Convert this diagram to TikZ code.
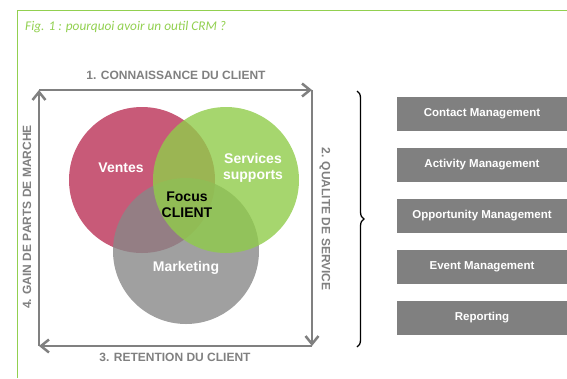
\documentclass[tikz,border=0pt]{standalone}
\usepackage{fontspec}
\setmainfont{Liberation Sans}[BoldFont={Liberation Sans Bold}]
\newfontfamily\capfont{Carlito}
\newfontfamily\grasfont{Liberation Sans Bold}
\usetikzlibrary{arrows.meta,decorations.pathreplacing}
\definecolor{venteRose}{RGB}{186,49,86}
\definecolor{serviceVert}{RGB}{144,204,74}
\definecolor{marketGris}{RGB}{136,136,136}
\definecolor{cadreVert}{RGB}{146,208,80}
\definecolor{grisTexte}{RGB}{128,128,128}

\begin{document}
\begin{tikzpicture}[x=1pt, y=-1pt,
    side/.style={draw=grisTexte, line width=2.5pt, -{Straight Barb[length=8pt,width=13pt]}},
    axlabel/.style={text=grisTexte, font=\grasfont\fontsize{12}{12}\selectfont, inner sep=0pt},
    circtext/.style={text=white, font=\grasfont\fontsize{14}{16}\selectfont, align=center, inner sep=0pt},
    module/.style={fill=grisTexte, text=white, minimum width=170pt, minimum height=34pt, inner sep=0pt, font=\grasfont\fontsize{11.5}{12}\selectfont}]
\useasboundingbox (0,0) rectangle (567,378);

% frame
    \draw[cadreVert, line width=1.5pt] (17.5,378) -- (17.5,10.5) -- (567,10.5);
    \node[anchor=base west, inner sep=0pt, text=cadreVert, font=\capfont\itshape\fontsize{13.3}{14}\selectfont] (caption) at (25,30) {Fig. 1 : pourquoi avoir un outil CRM ?};

% circles
    \fill[venteRose, opacity=.8] (142,180) coordinate(V) circle (73);
    \fill[marketGris, opacity=.8] (186,251) coordinate(M) circle (73);
    \fill[serviceVert, opacity=.8] (226,180) coordinate(S) circle (73);

    \node[circtext] (ventes) at (121,168) {Ventes};
    \node[circtext] (services) at (253,168) {Services\\supports};
    \node[circtext, text=black] (focus) at (187,205) {Focus\\CLIENT};
    \node[circtext] (marketing) at (186,268) {Marketing};

% cycle
    \coordinate (NW) at (39,90);
    \coordinate (NE) at (312,90);
    \coordinate (SE) at (312,346);
    \coordinate (SW) at (39,346);
    \draw[side] (NW) -- (NE);
    \draw[side] (NE) -- (SE);
    \draw[side] (SE) -- (SW);
    \draw[side] (SW) -- (NW);

    \node[axlabel] (connaissance) at (176,75) {1. CONNAISSANCE DU CLIENT};
    \node[axlabel, rotate=-90] (qualite) at (325,219) {2. QUALITE DE SERVICE};
    \node[axlabel] (retention) at (175,357) {3. RETENTION DU CLIENT};
    \node[axlabel, rotate=90] (gain) at (27,217) {4. GAIN DE PARTS DE MARCHE};

% brace
    \draw[decorate, decoration={brace, amplitude=7pt}, line width=1.3pt] (357,91) -- (357,347);

% modules
    \node[module] (contact) at (482,114) {Contact Management};
    \node[module] (activity) at (482,165) {Activity Management};
    \node[module] (opportunity) at (482,216) {Opportunity Management};
    \node[module] (event) at (482,266.5) {Event Management};
    \node[module] (reporting) at (482,318) {Reporting};

\end{tikzpicture}
\end{document}
